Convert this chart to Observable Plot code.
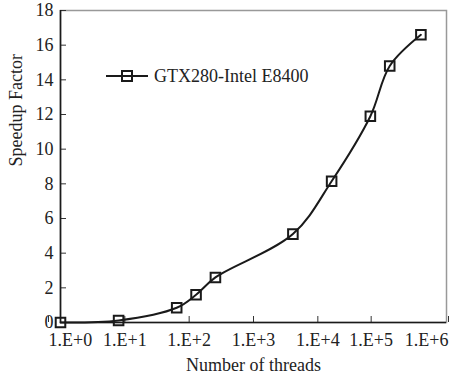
<!DOCTYPE html>
<html><head><meta charset="utf-8">
<script src="https://cdn.jsdelivr.net/npm/d3@7"></script>
<script src="https://cdn.jsdelivr.net/npm/@observablehq/plot@0.6"></script>
<style>
body{margin:0;background:#fff;}
#wrap{position:relative;width:450px;height:375px;font-family:"Liberation Serif","DejaVu Serif","Times New Roman",serif;color:#222;}
#legend{position:absolute;left:106px;top:65px;display:flex;align-items:center;font-size:18px;line-height:22px;white-space:nowrap;}
#legend span{margin-left:6px;}
</style></head><body>
<div id="wrap"><div id="chart"></div><div id="legend"></div></div>
<script>
const seriesName = "GTX280-Intel E8400";
const threads = [1, 8, 64, 128, 256, 4096, 16384, 65536, 131072, 400000];
const speedup = [0, 0.12, 0.85, 1.6, 2.6, 5.1, 8.15, 11.9, 14.8, 16.6];
const xDomain = [1, 1e6];
const xTicks = [1, 10, 100, 1e3, 1e4, 1e5, 1e6];
const xTickLabels = ["1.E+0", "1.E+1", "1.E+2", "1.E+3", "1.E+4", "1.E+5", "1.E+6"];
const yDomain = [0, 18];
const yTicks = [0, 2, 4, 6, 8, 10, 12, 14, 16, 18];
const xLabel = "Number of threads";
const yLabel = "Speedup Factor";

const data = threads.map((t, i) => ({threads: t, speedup: speedup[i]}));
const fmt = d => xTickLabels[xTicks.indexOf(d)];
const ink = "#1a1a1a";
const font = "'Liberation Serif', 'DejaVu Serif', 'Times New Roman', serif";
const tickOpts = {tickSize: -6, tickPadding: 17, tickFormat: fmt, fontSize: 18, stroke: "#333", label: null};

const chart = Plot.plot({
  width: 450, height: 375,
  marginLeft: 60, marginRight: 4, marginTop: 10, marginBottom: 53,
  style: {fontFamily: font, fontSize: "18px", color: "#222", background: "#fff"},
  x: {type: "log", domain: xDomain},
  y: {domain: yDomain},
  marks: [
    Plot.frame({stroke: "#999", strokeWidth: 1.5}),
    Plot.axisX(xTicks.slice(0, 1), {...tickOpts, textAnchor: "start", dx: -12}),
    Plot.axisX(xTicks.slice(1, 5), {...tickOpts}),
    Plot.axisX(xTicks.slice(5, 6), {...tickOpts, dx: -11}),
    Plot.axisX(xTicks.slice(6), {...tickOpts, textAnchor: "end", dx: 2}),
    Plot.axisY(yTicks, {tickSize: -6, tickPadding: 13, fontSize: 18, stroke: "#333", label: null}),
    Plot.text([xLabel], {frameAnchor: "bottom", lineAnchor: "bottom", dy: 48, fontSize: 18, fill: "#222"}),
    Plot.text([yLabel], {frameAnchor: "left", rotate: -90, lineAnchor: "top", dx: -51, fontSize: 18, fill: "#222"}),
    Plot.ruleX([xDomain[0]], {stroke: ink, strokeWidth: 1.6}),
    Plot.ruleY([yDomain[0]], {stroke: ink, strokeWidth: 1.6}),
    Plot.line(data, {x: "threads", y: "speedup", curve: "catmull-rom", stroke: ink, strokeWidth: 2}),
    Plot.dot(data, {x: "threads", y: "speedup", symbol: "square", r: 5.4, stroke: ink, strokeWidth: 2, fill: "none"})
  ]
});
document.getElementById("chart").appendChild(chart);

const lg = document.getElementById("legend");
lg.innerHTML = `<svg width="42" height="14"><line x1="0" y1="7" x2="42" y2="7" stroke="${ink}" stroke-width="2"/><rect x="16" y="2" width="10" height="10" fill="none" stroke="${ink}" stroke-width="2"/></svg><span></span>`;
lg.querySelector("span").textContent = seriesName;
</script>
</body></html>
